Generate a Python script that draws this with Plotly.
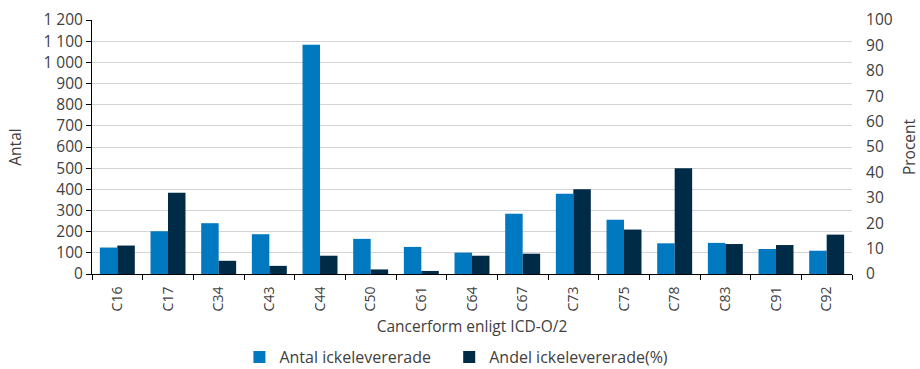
import plotly.graph_objects as go

# Cancer forms (ICD-O/2) and non-delivered reports
categories = ["C16", "C17", "C34", "C43", "C44", "C50", "C61", "C64",
              "C67", "C73", "C75", "C78", "C83", "C91", "C92"]
antal = [125, 202, 240, 188, 1083, 166, 128, 101, 285, 379, 256, 145, 147, 118, 110]
andel = [11.2, 32.0, 5.2, 3.2, 7.2, 1.8, 1.2, 7.2, 8.0, 33.4, 17.5, 41.6, 11.8, 11.4, 15.5]

left_ticks = [0, 100, 200, 300, 400, 500, 600, 700, 800, 900, 1000, 1100, 1200]
left_tick_text = ["0", "100", "200", "300", "400", "500", "600", "700", "800",
                  "900", "1 000", "1 100", "1 200"]
right_ticks = [0, 10, 20, 30, 40, 50, 60, 70, 80, 90, 100]

BLUE = "#0179C0"
NAVY = "#002B46"
TEXT = "#404040"
FONT = "Open Sans"

fig = go.Figure()
fig.add_trace(go.Bar(
    x=categories, y=antal, name="Antal ickelevererade",
    marker=dict(color=BLUE, line=dict(width=0)),
    yaxis="y", offsetgroup="a", legend="legend",
))
fig.add_trace(go.Bar(
    x=categories, y=andel, name="Andel ickelevererade(%)",
    marker=dict(color=NAVY, line=dict(width=0)),
    yaxis="y2", offsetgroup="b", legend="legend2",
))

legend_style = dict(orientation="h", xanchor="left",
                    y=0.0325, yref="container", yanchor="middle",
                    font=dict(size=16, color=TEXT), itemwidth=30)

fig.update_layout(
    width=920, height=369,
    margin=dict(l=92, r=68, t=20, b=95),
    paper_bgcolor="white", plot_bgcolor="white",
    font=dict(family=FONT, color=TEXT, size=15),
    barmode="group", bargap=0.31, bargroupgap=0,
    showlegend=True,
    legend=dict(x=0.194, **legend_style),
    legend2=dict(x=0.470, **legend_style),
    xaxis=dict(
        title=dict(text="Cancerform enligt ICD-O/2", font=dict(size=15.5), standoff=10),
        tickangle=-90, tickfont=dict(size=14), ticklabelstandoff=6,
        showline=True, linecolor="black", linewidth=1,
        ticks="outside", tickson="boundaries", ticklen=5, tickcolor="black",
        showgrid=False, automargin=False,
    ),
    yaxis=dict(
        title=dict(text="Antal", font=dict(size=15.5), standoff=17),
        range=[0, 1200], tickvals=left_ticks, ticktext=left_tick_text,
        showline=True, linecolor="black", linewidth=1,
        ticks="outside", ticklen=5, tickcolor="black",
        showgrid=True, gridcolor="#d4d4d4", gridwidth=1,
        zeroline=False, tickfont=dict(size=15.5), automargin=False,
    ),
    yaxis2=dict(
        title=dict(text="Procent", font=dict(size=15.5), standoff=23),
        range=[0, 100], tickvals=right_ticks,
        overlaying="y", side="right",
        showline=False, showgrid=False, zeroline=False,
        ticks="outside", ticklen=10, tickcolor="rgba(0,0,0,0)",
        tickfont=dict(size=15.5), automargin=False,
    ),
)

fig.write_html("out.html")
